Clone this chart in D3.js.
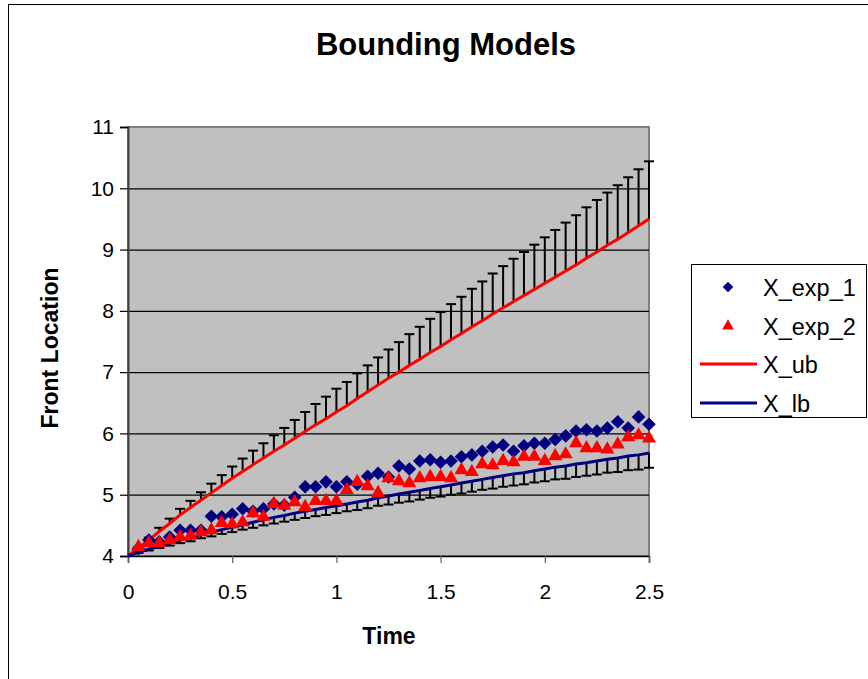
<!DOCTYPE html>
<html>
<head>
  <meta charset="utf-8">
  <script src="https://d3js.org/d3.v7.min.js"></script>
  <style>
    body { margin: 0; background: #fff; }
    text { font-family: "Liberation Sans", Arial, sans-serif; fill: #000; }
  </style>
</head>
<body>
<script>
  "use strict";

  // time values (x categories)
  var time = [0, 0.05, 0.1, 0.15, 0.2, 0.25, 0.3, 0.35, 0.4, 0.45, 0.5,
              0.55, 0.6, 0.65, 0.7, 0.75, 0.8, 0.85, 0.9, 0.95, 1.0,
              1.05, 1.1, 1.15, 1.2, 1.25, 1.3, 1.35, 1.4, 1.45, 1.5,
              1.55, 1.6, 1.65, 1.7, 1.75, 1.8, 1.85, 1.9, 1.95, 2.0,
              2.05, 2.1, 2.15, 2.2, 2.25, 2.3, 2.35, 2.4, 2.45, 2.5];

  // experiment 1 (diamonds), no point at t = 0
  var xExp1 = [null, 4.12, 4.26, 4.23, 4.31, 4.42, 4.42, 4.42, 4.65, 4.64, 4.68,
               4.77, 4.73, 4.77, 4.85, 4.83, 4.96, 5.13, 5.13, 5.21, 5.13,
               5.21, 5.17, 5.30, 5.35, 5.29, 5.47, 5.42, 5.55, 5.57, 5.53,
               5.55, 5.62, 5.65, 5.71, 5.78, 5.81, 5.71, 5.80, 5.84, 5.84,
               5.90, 5.96, 6.04, 6.06, 6.04, 6.09, 6.19, 6.09, 6.27, 6.15];

  // experiment 2 (triangles)
  var xExp2 = [null, 4.15, 4.21, 4.21, 4.26, 4.31, 4.33, 4.39, 4.42, 4.54, 4.52,
               4.55, 4.70, 4.64, 4.85, 4.82, 4.88, 4.80, 4.90, 4.90, 4.90,
               5.08, 5.21, 5.14, 5.03, 5.27, 5.22, 5.19, 5.27, 5.29, 5.29,
               5.27, 5.40, 5.37, 5.50, 5.48, 5.55, 5.53, 5.62, 5.62, 5.55,
               5.63, 5.66, 5.84, 5.76, 5.76, 5.74, 5.82, 5.94, 5.97, 5.92];

  // upper bound and its (plus only) error bars
  var xUb = [4.00, 4.13, 4.26, 4.40, 4.53, 4.67, 4.79, 4.91, 5.03, 5.15, 5.27,
             5.38, 5.49, 5.60, 5.71, 5.81, 5.92, 6.03, 6.14, 6.24, 6.35,
             6.45, 6.57, 6.68, 6.79, 6.90, 7.00, 7.11, 7.21, 7.32, 7.42,
             7.53, 7.63, 7.74, 7.84, 7.95, 8.05, 8.15, 8.25, 8.35, 8.45,
             8.55, 8.65, 8.75, 8.86, 8.96, 9.07, 9.17, 9.28, 9.39, 9.50];
  var ubErr = [0.00, 0.02, 0.04, 0.06, 0.08, 0.10, 0.11, 0.13, 0.15, 0.17, 0.19,
               0.21, 0.23, 0.24, 0.26, 0.28, 0.30, 0.32, 0.34, 0.36, 0.38,
               0.39, 0.41, 0.43, 0.45, 0.47, 0.49, 0.51, 0.53, 0.55, 0.56,
               0.58, 0.60, 0.62, 0.64, 0.66, 0.68, 0.70, 0.71, 0.73, 0.75,
               0.77, 0.79, 0.81, 0.83, 0.85, 0.86, 0.88, 0.90, 0.92, 0.94];

  // lower bound and its (minus only) error bars
  var xLb = [4.00, 4.06, 4.11, 4.16, 4.21, 4.26, 4.30, 4.35, 4.39, 4.43, 4.47,
             4.51, 4.55, 4.59, 4.63, 4.66, 4.70, 4.73, 4.76, 4.79, 4.82,
             4.85, 4.88, 4.91, 4.95, 4.98, 5.01, 5.04, 5.07, 5.10, 5.13,
             5.16, 5.19, 5.22, 5.25, 5.28, 5.31, 5.34, 5.36, 5.39, 5.42,
             5.45, 5.47, 5.50, 5.52, 5.55, 5.58, 5.60, 5.63, 5.65, 5.68];
  var lbErr = [0.00, 0.01, 0.02, 0.03, 0.04, 0.05, 0.06, 0.06, 0.07, 0.07, 0.08,
               0.08, 0.09, 0.09, 0.10, 0.10, 0.11, 0.11, 0.11, 0.12, 0.12,
               0.12, 0.13, 0.13, 0.13, 0.14, 0.14, 0.15, 0.15, 0.15, 0.16,
               0.16, 0.17, 0.17, 0.17, 0.18, 0.18, 0.19, 0.19, 0.19, 0.20,
               0.20, 0.21, 0.21, 0.21, 0.22, 0.22, 0.23, 0.23, 0.24, 0.24];

  var xTicks = [0, 0.5, 1, 1.5, 2, 2.5];
  var yTicks = [4, 5, 6, 7, 8, 9, 10, 11];
  var seriesNames = ["X_exp_1", "X_exp_2", "X_ub", "X_lb"];

  var W = 868, H = 679;
  var plot = {left: 128, right: 649, top: 127, bottom: 556};

  var svg = d3.select("body").append("svg")
    .attr("width", W)
    .attr("height", H);

  //chart frame (only top/left visible in the crop)
  svg.append("rect")
    .attr("x", 8.5).attr("y", 4.5)
    .attr("width", 1000).attr("height", 1000)
    .attr("fill", "#fff")
    .attr("stroke", "#000")
    .attr("stroke-width", 1);

  var x = d3.scaleLinear().domain([0, 2.5]).range([plot.left, plot.right]);
  var y = d3.scaleLinear().domain([4, 11]).range([plot.bottom, plot.top]);

  //plot area
  svg.append("rect")
    .attr("x", plot.left).attr("y", plot.top)
    .attr("width", plot.right - plot.left)
    .attr("height", plot.bottom - plot.top)
    .attr("fill", "#c0c0c0")
    .attr("stroke", "#808080")
    .attr("stroke-width", 2);

  //gridlines
  svg.append("g")
    .attr("transform", "translate(" + plot.left + ",0)")
    .call(d3.axisLeft(y).tickValues(yTicks.slice(1, -1)).tickSize(-(plot.right - plot.left)).tickFormat(""))
    .call(function (g) { g.select(".domain").remove(); })
    .selectAll("line").attr("stroke", "#000").attr("stroke-width", 1.2);

  //y axis
  var yAxis = svg.append("g")
    .attr("transform", "translate(" + plot.left + ",0)")
    .call(d3.axisLeft(y).tickValues(yTicks).tickSize(8).tickPadding(6).tickFormat(d3.format("d")));
  yAxis.select(".domain").attr("stroke", "#404040").attr("stroke-width", 2);
  yAxis.selectAll(".tick line").attr("stroke", "#000").attr("stroke-width", 1.2);
  yAxis.selectAll("text").attr("font-size", 21).attr("fill", "#000")
    .style("font-family", "'Liberation Sans', Arial, sans-serif");

  //x axis
  var xAxis = svg.append("g")
    .attr("transform", "translate(0," + plot.bottom + ")")
    .call(d3.axisBottom(x).tickValues(xTicks).tickSize(7).tickPadding(21)
      .tickFormat(function (d) { return String(d); }));
  xAxis.select(".domain").attr("stroke", "#000").attr("stroke-width", 1.5);
  xAxis.selectAll(".tick line").attr("stroke", "#606060").attr("stroke-width", 1.2);
  xAxis.selectAll("text").attr("font-size", 21).attr("fill", "#000")
    .style("font-family", "'Liberation Sans', Arial, sans-serif");

  var pts = time.map(function (t, i) {
    return {t: t, e1: xExp1[i], e2: xExp2[i], ub: xUb[i], lb: xLb[i], ue: ubErr[i], le: lbErr[i]};
  });

  //error bars
  var capW = 5;
  var eb = svg.append("g").attr("stroke", "#000").attr("stroke-width", 2).attr("fill", "none");
  pts.slice(1).forEach(function (d) {
    var cx = x(d.t);
    eb.append("line").attr("x1", cx).attr("x2", cx).attr("y1", y(d.ub)).attr("y2", y(d.ub + d.ue));
    eb.append("line").attr("x1", cx - capW).attr("x2", cx + capW).attr("y1", y(d.ub + d.ue)).attr("y2", y(d.ub + d.ue));
    eb.append("line").attr("x1", cx).attr("x2", cx).attr("y1", y(d.lb)).attr("y2", y(d.lb - d.le));
    eb.append("line").attr("x1", cx - capW).attr("x2", cx + capW).attr("y1", y(d.lb - d.le)).attr("y2", y(d.lb - d.le));
  });

  //bound lines
  var ubLine = d3.line().x(function (d) { return x(d.t); }).y(function (d) { return y(d.ub); });
  var lbLine = d3.line().x(function (d) { return x(d.t); }).y(function (d) { return y(d.lb); });
  svg.append("path").datum(pts).attr("d", ubLine)
    .attr("fill", "none").attr("stroke", "#ff0000").attr("stroke-width", 3);
  svg.append("path").datum(pts).attr("d", lbLine)
    .attr("fill", "none").attr("stroke", "#000080").attr("stroke-width", 3);

  //markers
  var diamond = d3.symbol().type(d3.symbolSquare).size(92);
  var triangle = d3.symbol().type(d3.symbolTriangle).size(86);

  svg.append("g").selectAll("path")
    .data(pts.filter(function (d) { return d.e1 != null; }))
    .enter().append("path")
    .attr("d", diamond)
    .attr("transform", function (d) { return "translate(" + x(d.t) + "," + y(d.e1) + ") rotate(45)"; })
    .attr("fill", "#000080");

  svg.append("g").selectAll("path")
    .data(pts.filter(function (d) { return d.e2 != null; }))
    .enter().append("path")
    .attr("d", triangle)
    .attr("transform", function (d) { return "translate(" + x(d.t) + "," + y(d.e2) + ")"; })
    .attr("fill", "#ff0000");

  //titles
  svg.append("text")
    .attr("x", 446).attr("y", 55)
    .attr("text-anchor", "middle")
    .attr("font-size", 31).attr("font-weight", "bold")
    .text("Bounding Models");

  svg.append("text")
    .attr("x", 389).attr("y", 644)
    .attr("text-anchor", "middle")
    .attr("font-size", 23).attr("font-weight", "bold")
    .text("Time");

  svg.append("text")
    .attr("transform", "translate(58,348) rotate(-90)")
    .attr("text-anchor", "middle")
    .attr("font-size", 23).attr("font-weight", "bold")
    .text("Front Location");

  //legend
  var lg = svg.append("g");
  lg.append("rect")
    .attr("x", 691.5).attr("y", 264.5)
    .attr("width", 175).attr("height", 153)
    .attr("fill", "#fff").attr("stroke", "#000").attr("stroke-width", 1);

  var rowY = [287, 326, 364, 403];
  seriesNames.forEach(function (name, i) {
    var cy = rowY[i];
    if (i === 0) {
      lg.append("path").attr("d", d3.symbol().type(d3.symbolSquare).size(56))
        .attr("transform", "translate(728," + cy + ") rotate(45)").attr("fill", "#000080");
    } else if (i === 1) {
      lg.append("path").attr("d", d3.symbol().type(d3.symbolTriangle).size(60))
        .attr("transform", "translate(728," + cy + ")").attr("fill", "#ff0000");
    } else {
      lg.append("line").attr("x1", 700).attr("x2", 757).attr("y1", cy).attr("y2", cy)
        .attr("stroke", i === 2 ? "#ff0000" : "#000080").attr("stroke-width", 3);
    }
    lg.append("text")
      .attr("x", 763).attr("y", cy + 8.5)
      .attr("font-size", 23.5)
      .text(name);
  });
</script>
</body>
</html>
